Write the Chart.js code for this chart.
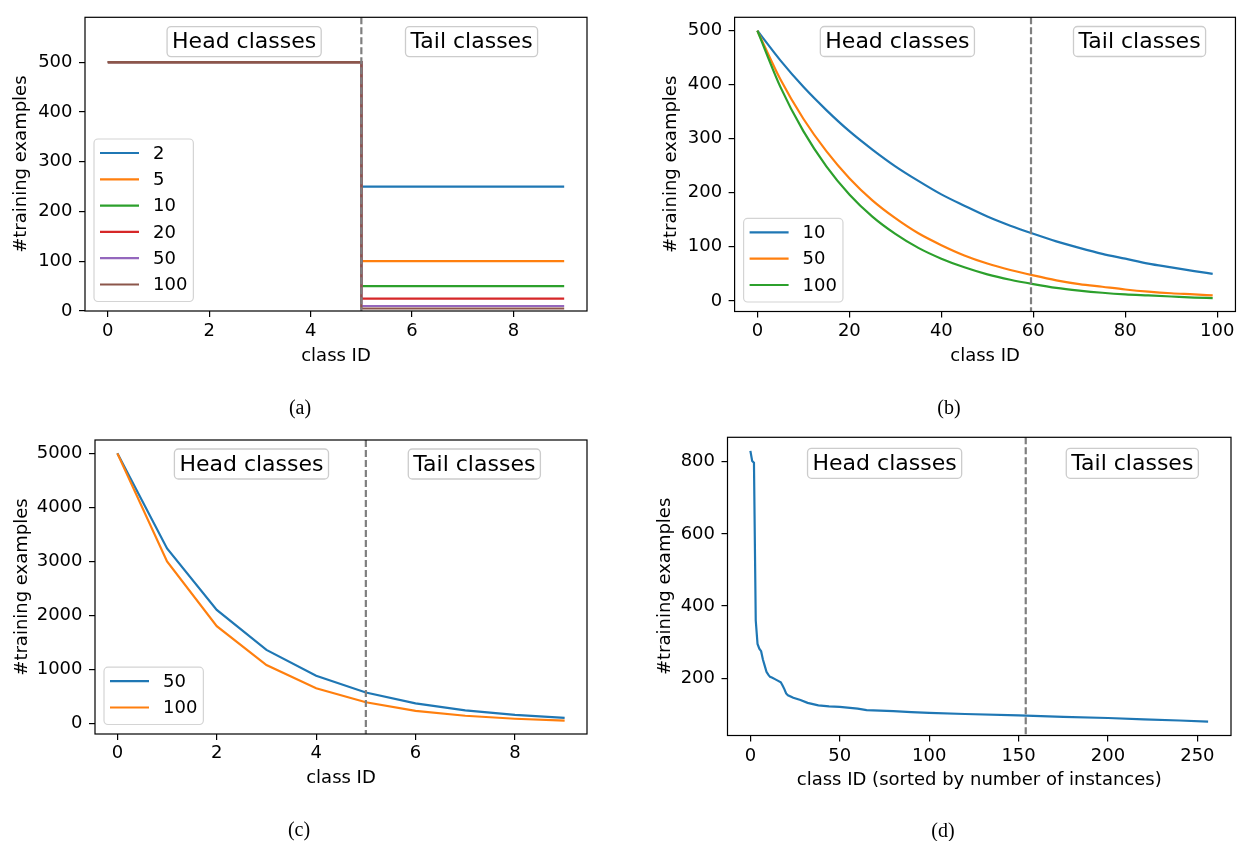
<!DOCTYPE html>
<html>
<head>
<meta charset="utf-8">
<script src="https://cdn.jsdelivr.net/npm/chart.js@4.4.1/dist/chart.umd.min.js"></script>
<style>
  body { margin: 0; background: #fff; width: 1238px; height: 841px; position: relative; overflow: hidden; }
  canvas { position: absolute; }
  .cap { position: absolute; font-family: "Liberation Serif", serif; font-size: 20px; color: #000; transform: translate(-50%, -50%); }
</style>
</head>
<body>
<canvas id="chartA"></canvas>
<canvas id="chartB"></canvas>
<canvas id="chartC"></canvas>
<canvas id="chartD"></canvas>
<div class="cap" style="left:300px; top:407px">(a)</div>
<div class="cap" style="left:949px; top:407px">(b)</div>
<div class="cap" style="left:299px; top:829px">(c)</div>
<div class="cap" style="left:943px; top:830px">(d)</div>

<script>
// --- (a) step imbalance, 10 classes ---
const aLabels = ['2', '5', '10', '20', '50', '100'];
const aHeadCount = 500;
const aTailCounts = [250, 100, 50, 25, 10, 5];
const aHeadIds = [0, 5];
const aTailIds = [5, 9];
const aSplit = 5;
const aXTicks = [0, 2, 4, 6, 8];
const aYTicks = [0, 100, 200, 300, 400, 500];

// --- (b) long-tailed, 100 classes ---
const bLabels = ['10', '50', '100'];
const bClassIds = [0, 5, 10, 15, 20, 25, 30, 35, 40, 45, 50, 55, 60, 65, 70, 75, 80, 85, 90, 95, 99];
const bCounts10 = [500, 445, 396, 353, 314, 280, 249, 222, 197, 176, 156, 139, 124, 110, 98, 87, 78, 69, 62, 55, 50];
const bCounts50 = [500, 410, 337, 277, 227, 186, 153, 125, 103, 84, 69, 57, 47, 38, 31, 26, 21, 17, 14, 12, 10];
const bCounts100 = [500, 396, 314, 249, 197, 156, 124, 98, 78, 62, 49, 39, 31, 24, 19, 15, 12, 10, 8, 6, 5];
const bSplit = 59.5;
const bXTicks = [0, 20, 40, 60, 80, 100];
const bYTicks = [0, 100, 200, 300, 400, 500];

// --- (c) long-tailed, 10 classes ---
const cLabels = ['50', '100'];
const cClassIds = [0, 1, 2, 3, 4, 5, 6, 7, 8, 9];
const cCounts50 = [5000, 3240, 2100, 1360, 880, 570, 370, 240, 155, 100];
const cCounts100 = [5000, 3000, 1800, 1080, 650, 390, 230, 140, 85, 50];
const cSplit = 5;
const cXTicks = [0, 2, 4, 6, 8];
const cYTicks = [0, 1000, 2000, 3000, 4000, 5000];

// --- (d) real dataset, sorted ---
const dClassIds = [0, 1, 2, 3, 4, 5, 6, 7, 8, 9, 10, 11, 12, 14, 17, 18, 19, 20, 21, 24, 28, 32, 38, 44, 50, 60, 65, 80, 90, 100, 120, 150, 175, 200, 220, 240, 256];
const dCounts = [830, 802, 797, 360, 295, 282, 275, 252, 235, 218, 210, 204, 202, 197, 189, 180, 170, 158, 153, 146, 140, 132, 125, 122, 121, 116, 112, 109, 106, 104, 101, 97, 93, 90, 86, 83, 80];
const dSplit = 154;
const dXTicks = [0, 50, 100, 150, 200, 250];
const dYTicks = [200, 400, 600, 800];

const tab10 = ['#1f77b4', '#ff7f0e', '#2ca02c', '#d62728', '#9467bd', '#8c564b'];
const FONT = 'DejaVu Sans';
Chart.defaults.font.family = FONT;
Chart.defaults.color = '#000';

// split line, text boxes, legend, frame
const decor = {
  id: 'decor',
  afterDatasetsDraw(chart, args, opts) {
    const { ctx, chartArea: a, scales: { x } } = chart;
    ctx.save();

    const px = x.getPixelForValue(opts.split);
    ctx.strokeStyle = '#7f7f7f';
    ctx.lineWidth = 2.2;
    ctx.setLineDash([7, 3]);
    ctx.beginPath();
    ctx.moveTo(px, a.top);
    ctx.lineTo(px, a.bottom);
    ctx.stroke();
    ctx.setLineDash([]);

    // Head / Tail labels
    ctx.font = '22px "' + FONT + '"';
    ctx.textAlign = 'center';
    ctx.textBaseline = 'middle';
    opts.boxes.forEach(b => {
      const cx = a.left + b.fx * (a.right - a.left);
      const cy = a.top + opts.boxDy;
      const w = ctx.measureText(b.text).width + 10;
      const h = 30;
      ctx.beginPath();
      ctx.roundRect(cx - w / 2, cy - h / 2, w, h, 4);
      ctx.fillStyle = '#fff';
      ctx.fill();
      ctx.strokeStyle = '#cccccc';
      ctx.lineWidth = 1.3;
      ctx.stroke();
      ctx.fillStyle = '#000';
      ctx.fillText(b.text, cx, cy + 1);
    });

    // legend, lower left
    if (opts.legend) {
      const sets = chart.data.datasets;
      ctx.font = '18px "' + FONT + '"';
      let tw = 0;
      sets.forEach(s => { tw = Math.max(tw, ctx.measureText(s.label).width); });
      const rowH = 26.3;
      const bh = 14 + (sets.length - 1) * rowH + 17;
      const bw = 59 + tw + 6;
      const bl = a.left + 9;
      const bt = a.bottom - 9.5 - bh;
      ctx.beginPath();
      ctx.roundRect(bl, bt, bw, bh, 4);
      ctx.fillStyle = 'rgba(255,255,255,0.85)';
      ctx.fill();
      ctx.strokeStyle = '#d4d4d4';
      ctx.lineWidth = 1.2;
      ctx.stroke();
      ctx.textAlign = 'left';
      sets.forEach((s, i) => {
        const y = bt + 14 + i * rowH;
        ctx.strokeStyle = s.borderColor;
        ctx.lineWidth = 2.2;
        ctx.beginPath();
        ctx.moveTo(bl + 6, y);
        ctx.lineTo(bl + 45, y);
        ctx.stroke();
        ctx.fillStyle = '#000';
        ctx.fillText(s.label, bl + 59, y + 1);
      });
    }

    // axes frame
    ctx.strokeStyle = '#000';
    ctx.lineWidth = 1.2;
    ctx.strokeRect(a.left, a.top, a.right - a.left, a.bottom - a.top);
    ctx.restore();
  }
};

function makePanel(p) {
  const el = document.getElementById(p.id);
  el.width = p.box.w;
  el.height = p.box.h;
  el.style.left = p.box.x + 'px';
  el.style.top = p.box.y + 'px';
  const axisGrid = { display: true, drawOnChartArea: false, drawTicks: true, tickLength: 6, color: '#000', lineWidth: 1.2 };
  const tickFont = { family: FONT, size: 18 };
  new Chart(el, {
    type: 'line',
    data: { datasets: p.datasets },
    plugins: [decor],
    options: {
      responsive: false,
      animation: false,
      devicePixelRatio: 1,
      layout: {
        padding: {
          left: 0,
          top: p.area.t - p.box.y,
          right: p.box.x + p.box.w - p.area.r,
          bottom: 0
        }
      },
      elements: { point: { radius: 0 }, line: { borderWidth: 2.2 } },
      plugins: {
        legend: { display: false },
        tooltip: { enabled: false },
        decor: { split: p.split, boxes: p.boxes, boxDy: p.boxDy, legend: p.legend }
      },
      scales: {
        x: {
          type: 'linear',
          min: p.xRange[0],
          max: p.xRange[1],
          grid: axisGrid,
          border: { display: false },
          afterBuildTicks: s => { s.ticks = p.xTicks.map(v => ({ value: v })); },
          afterFit: s => { s.height = p.box.y + p.box.h - p.area.b; },
          ticks: { font: tickFont, color: '#000', padding: p.xTickPad, maxRotation: 0, callback: v => String(v) },
          title: { display: true, text: p.xTitle, font: tickFont, color: '#000', padding: { top: 0, bottom: p.xTitlePad } }
        },
        y: {
          type: 'linear',
          min: p.yRange[0],
          max: p.yRange[1],
          grid: axisGrid,
          border: { display: false },
          afterBuildTicks: s => { s.ticks = p.yTicks.map(v => ({ value: v })); },
          afterFit: s => { s.width = p.area.l - p.box.x; },
          ticks: { font: tickFont, color: '#000', padding: 6.5, callback: v => String(v) },
          title: { display: true, text: '#training examples', font: tickFont, color: '#000', padding: { top: p.yTitlePad, bottom: 0 } }
        }
      }
    }
  });
}

function lineSet(label, color, xs, ys, order, smooth) {
  return {
    label: label,
    data: xs.map((x, i) => ({ x: x, y: ys[i] })),
    borderColor: color,
    backgroundColor: color,
    fill: false,
    order: order,
    cubicInterpolationMode: smooth ? 'monotone' : 'default',
    tension: 0
  };
}

// (a)
makePanel({
  id: 'chartA',
  box: { x: 0, y: 0, w: 619, h: 420 },
  area: { l: 85, t: 12.7, r: 587, b: 311 },
  xRange: [-0.45, 9.45], yRange: [0, 590],
  xTicks: aXTicks, yTicks: aYTicks,
  xTitle: 'class ID', xTickPad: 3.5, xTitlePad: 52.5, yTitlePad: 11,
  split: aSplit, boxDy: 24.3, legend: true,
  boxes: [{ text: 'Head classes', fx: 0.317 }, { text: 'Tail classes', fx: 0.770 }],
  datasets: aLabels.map((lab, i) => lineSet(lab, tab10[i],
    [aHeadIds[0], aHeadIds[1], aTailIds[0], aTailIds[1]],
    [aHeadCount, aHeadCount, aTailCounts[i], aTailCounts[i]],
    aLabels.length - i, false))
});

// (b)
makePanel({
  id: 'chartB',
  box: { x: 619, y: 0, w: 619, h: 420 },
  area: { l: 734.6, t: 12.5, r: 1237, b: 311.5 },
  xRange: [-4.95, 103.95], yRange: [-19.75, 524.75],
  xTicks: bXTicks, yTicks: bYTicks,
  xTitle: 'class ID', xTickPad: 3.5, xTitlePad: 52.5, yTitlePad: 41.5,
  split: bSplit, boxDy: 24.2, legend: true,
  boxes: [{ text: 'Head classes', fx: 0.325 }, { text: 'Tail classes', fx: 0.8085 }],
  datasets: [
    lineSet(bLabels[0], tab10[0], bClassIds, bCounts10, 3, true),
    lineSet(bLabels[1], tab10[1], bClassIds, bCounts50, 2, true),
    lineSet(bLabels[2], tab10[2], bClassIds, bCounts100, 1, true)
  ]
});

// (c)
makePanel({
  id: 'chartC',
  box: { x: 0, y: 420, w: 619, h: 421 },
  area: { l: 95, t: 440, r: 587, b: 734 },
  xRange: [-0.45, 9.45], yRange: [-197.5, 5247.5],
  xTicks: cXTicks, yTicks: cYTicks,
  xTitle: 'class ID', xTickPad: 2.5, xTitlePad: 52, yTitlePad: 11.7,
  split: cSplit, boxDy: 24, legend: true,
  boxes: [{ text: 'Head classes', fx: 0.318 }, { text: 'Tail classes', fx: 0.771 }],
  datasets: [
    lineSet(cLabels[0], tab10[0], cClassIds, cCounts50, 2, false),
    lineSet(cLabels[1], tab10[1], cClassIds, cCounts100, 1, false)
  ]
});

// (d)
makePanel({
  id: 'chartD',
  box: { x: 619, y: 420, w: 619, h: 421 },
  area: { l: 727.5, t: 436, r: 1231, b: 735.5 },
  xRange: [-12.8, 268.8], yRange: [41.5, 867.5],
  xTicks: dXTicks, yTicks: dYTicks,
  xTitle: 'class ID (sorted by number of instances)', xTickPad: 4.5, xTitlePad: 49.5, yTitlePad: 35.7,
  split: dSplit, boxDy: 26, legend: false,
  boxes: [{ text: 'Head classes', fx: 0.312 }, { text: 'Tail classes', fx: 0.804 }],
  datasets: [lineSet('counts', tab10[0], dClassIds, dCounts, 1, false)]
});
</script>
</body>
</html>
